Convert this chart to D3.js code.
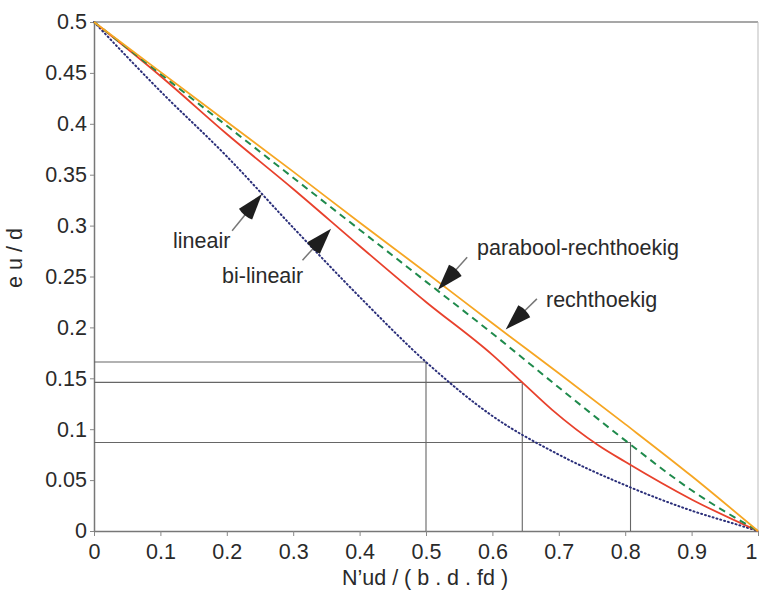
<!DOCTYPE html>
<html><head><meta charset="utf-8">
<script src="https://cdn.jsdelivr.net/npm/d3@7"></script>
<style>
body{margin:0;background:#fff;}
text{font-family:"Liberation Sans",Arial,sans-serif;fill:#2a2a2a;}
</style></head>
<body><svg id="c" width="760" height="591"></svg>
<script>
const xs = [0,0.1,0.2,0.3,0.4,0.5,0.6,0.7,0.8,0.9,1];
const oranje = [0.5,0.451,0.402,0.353,0.303,0.254,0.204,0.155,0.105,0.054,0];
const groen  = [0.5,0.449,0.398,0.347,0.296,0.245,0.194,0.141,0.089,0.040,0];
const redX   = [0,0.1,0.2,0.3,0.4,0.5,0.6,0.645,0.69,0.76,0.8,0.9,1];
const rood   = [0.5,0.447,0.39,0.336,0.28,0.225,0.173,0.146,0.119,0.084,0.068,0.031,0];
const blueX  = [0,0.1,0.2,0.3,0.4,0.5,0.6,0.7,0.8,0.9,0.97,1];
const blauw  = [0.5,0.432,0.368,0.298,0.23,0.166,0.113,0.075,0.045,0.02,0.006,0];
const xTicks = [0,0.1,0.2,0.3,0.4,0.5,0.6,0.7,0.8,0.9,1];
const yTicks = [0,0.05,0.1,0.15,0.2,0.25,0.3,0.35,0.4,0.45,0.5];
const refX = [0.5,0.645,0.808];
const refY = [0.166,0.146,0.087];

const svg = d3.select("#c");
const x = d3.scaleLinear().domain([0,1]).range([94,758]);
const y = d3.scaleLinear().domain([0,0.5]).range([531,22]);
const fmt = d => d===0?"0":d===1?"1":String(+d.toFixed(2));
const FS = "21.5px";

// frame top/right
svg.append("line").attr("x1",x(0)).attr("x2",x(1)).attr("y1",y(0.5)).attr("y2",y(0.5)).attr("stroke","#8a8a8a").attr("stroke-width",1.6);
svg.append("line").attr("x1",x(1)).attr("x2",x(1)).attr("y1",y(0.5)).attr("y2",y(0)).attr("stroke","#bbb").attr("stroke-width",1);

// axes
const xa = svg.append("g").attr("transform",`translate(0,${y(0)})`)
  .call(d3.axisBottom(x).tickValues(xTicks).tickFormat(fmt).tickSize(5).tickSizeOuter(0).tickPadding(8));
const ya = svg.append("g").attr("transform",`translate(${x(0)},0)`)
  .call(d3.axisLeft(y).tickValues(yTicks).tickFormat(fmt).tickSize(4).tickSizeOuter(0).tickPadding(3));
[xa,ya].forEach(a=>{
  a.select(".domain").attr("stroke","#777").attr("stroke-width",1.5);
  a.selectAll(".tick line").attr("stroke","#888");
  a.selectAll(".tick text").style("font-family","Liberation Sans, Arial, sans-serif").style("font-size",FS).attr("fill","#2a2a2a");
});
xa.selectAll(".tick text").filter(d=>d===1).attr("text-anchor","end").attr("dx","-1");

// reference lines
refX.forEach((rx,i)=>{
  svg.append("path").attr("d",`M${x(0)},${y(refY[i])}H${x(rx)}V${y(0)}`)
    .attr("fill","none").attr("stroke","#666").attr("stroke-width",1.1);
});

const line = d3.line().curve(d3.curveMonotoneX);
function draw(X,Y,color,dash,w){
  svg.append("path").attr("d",line(X.map((v,i)=>[x(v),y(Y[i])])))
    .attr("fill","none").attr("stroke",color).attr("stroke-width",w)
    .attr("stroke-dasharray",dash).attr("stroke-linecap",dash==="1 3"?"round":"butt");
}
draw(blueX,blauw,"#2b2f7a","1 3",2);
draw(redX,rood,"#e8412c",null,1.8);
draw(xs,groen,"#1f8a4c","7 5",2);
draw(xs,oranje,"#f6a623",null,1.8);

// annotations
const labels = ["lineair","bi-lineair","parabool-rechthoekig","rechthoekig"];
const labelPos = [[173,248],[222,283],[477,255],[546,307]];
const arrowFrom = [[0.208,0.295],[0.314,0.266],[0.562,0.269],[0.667,0.228]];
const arrowTo   = [[0.253,0.331],[0.357,0.297],[0.518,0.237],[0.62,0.198]];
labels.forEach((t,i)=>{
  svg.append("text").attr("x",labelPos[i][0]).attr("y",labelPos[i][1]).style("font-size",FS).text(t);
  const x1=x(arrowFrom[i][0]), y1=y(arrowFrom[i][1]), x2=x(arrowTo[i][0]), y2=y(arrowTo[i][1]);
  const dx=x2-x1, dy=y2-y1, L=Math.hypot(dx,dy), ux=dx/L, uy=dy/L, px=-uy, py=ux;
  const hl=26, hw=8.5;
  const bx=x2-ux*hl, by=y2-uy*hl;
  svg.append("line").attr("x1",x1).attr("y1",y1).attr("x2",bx).attr("y2",by).attr("stroke","#777").attr("stroke-width",1.5);
  svg.append("path").attr("d",`M${x2},${y2}L${bx+px*hw},${by+py*hw}Q${bx-ux*3},${by-uy*3} ${bx-px*hw},${by-py*hw}Z`).attr("fill","#1e1e1e");
});

// axis titles
svg.append("text").attr("x",425).attr("y",585).attr("text-anchor","middle").style("font-size",FS).text("N’ud / ( b . d . fd )");
svg.append("text").attr("transform","translate(22,258) rotate(-90)").attr("text-anchor","middle").style("font-size",FS).text("e u / d");
</script></body></html>
